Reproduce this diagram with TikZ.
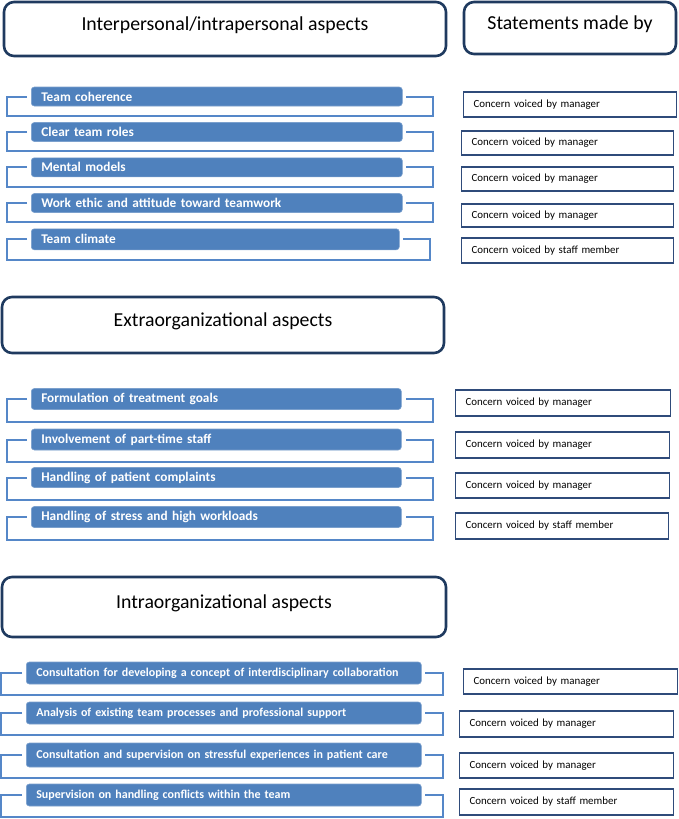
\documentclass[tikz,border=0pt]{standalone}
\usepackage{fontspec}
\setmainfont{Carlito}
\definecolor{barblue}{HTML}{4F81BD}
\definecolor{brkblue}{HTML}{5587C8}
\definecolor{navy}{HTML}{1F3A5F}
\definecolor{boxnavy}{HTML}{2F4B7A}

\begin{document}
\begin{tikzpicture}[x=1pt,y=-1pt,
  head/.style={draw=navy,line width=2.6pt,rounded corners=10pt,fill=white,font=\fontsize{19.8}{23}\selectfont,text depth=11pt},
  topic/.style={rectangle,rounded corners=3pt,fill=barblue,draw=barblue!75!white,line width=0.6pt,text=white,anchor=west,inner xsep=10pt,inner ysep=0pt,align=left},
  voiced/.style={draw=boxnavy,line width=1.1pt,anchor=west,inner xsep=10pt,inner ysep=0pt,text width=192pt,align=left,minimum height=25pt,font=\fontsize{10.9}{13}\selectfont},
  brk/.style={draw=brkblue,line width=2pt}]
\useasboundingbox (0,0) rectangle (678,819);

% headings
\node[head,minimum width=442pt,minimum height=54pt] (H1) at (225,29) {Interpersonal/intrapersonal aspects};
\node[head,minimum width=212pt,minimum height=52pt] (H0) at (570,28) {Statements made by};
\node[head,minimum width=442pt,minimum height=56pt] (H2) at (223,325) {Extraorganizational aspects};
\node[head,minimum width=444pt,minimum height=60pt] (H3) at (224,607) {Intraorganizational aspects};

% interpersonal/intrapersonal
\node[topic,text width=351pt,minimum height=19pt,font=\bfseries\fontsize{13.3}{15}\selectfont] (A1) at (31,96.5) {Team coherence};
\node[topic,text width=351pt,minimum height=19pt,font=\bfseries\fontsize{13.3}{15}\selectfont] (A2) at (31,132) {Clear team roles};
\node[topic,text width=351pt,minimum height=19pt,font=\bfseries\fontsize{13.3}{15}\selectfont] (A3) at (31,167.3) {Mental models};
\node[topic,text width=351pt,minimum height=19pt,font=\bfseries\fontsize{13.3}{15}\selectfont] (A4) at (31,203) {Work ethic and attitude toward teamwork};
\node[topic,text width=348pt,minimum height=21pt,font=\bfseries\fontsize{13.3}{15}\selectfont] (A5) at (31,239.3) {Team climate};
\foreach \n in {A1,A2,A3,A4,A5}
  \draw[brk] ([xshift=-4pt]\n.west) -- ++(-20pt,0pt) |- ([shift={(30pt,-9.5pt)}]\n.south east) |- ([xshift=3pt]\n.east);

\node[voiced,text width=193pt] (R1) at (463,104.5) {Concern voiced by manager};
\node[voiced,minimum height=24pt] (R2) at (461,143) {Concern voiced by manager};
\node[voiced,minimum height=24pt] (R3) at (461,179) {Concern voiced by manager};
\node[voiced,minimum height=23pt] (R4) at (461,215.5) {Concern voiced by manager};
\node[voiced] (R5) at (461,250.5) {Concern voiced by staff member};

% extraorganizational
\node[topic,text width=350pt,minimum height=21pt,font=\bfseries\fontsize{13.3}{15}\selectfont] (B1) at (31,399) {Formulation of treatment goals};
\node[topic,text width=350pt,minimum height=21pt,font=\bfseries\fontsize{13.3}{15}\selectfont] (B2) at (31,439.5) {Involvement of part-time staff};
\node[topic,text width=350pt,minimum height=20pt,font=\bfseries\fontsize{13.3}{15}\selectfont] (B3) at (31,477.5) {Handling of patient complaints};
\node[topic,text width=350pt,minimum height=21pt,font=\bfseries\fontsize{13.3}{15}\selectfont] (B4) at (31,517) {Handling of stress and high workloads};
\foreach \n in {B1,B2,B3,B4}
  \draw[brk] ([xshift=-4pt]\n.west) -- ++(-20pt,0pt) |- ([shift={(31pt,-12pt)}]\n.south east) |- ([xshift=4pt]\n.east);

\node[voiced,text width=195pt,minimum height=26pt] (S1) at (455,403) {Concern voiced by manager};
\node[voiced,text width=194pt,minimum height=26pt] (S2) at (455,445) {Concern voiced by manager};
\node[voiced,text width=194pt] (S3) at (455,485.5) {Concern voiced by manager};
\node[voiced,text width=193pt,minimum height=26pt] (S4) at (455,526) {Concern voiced by staff member};

% intraorganizational
\node[topic,text width=375pt,minimum height=22pt,font=\bfseries\fontsize{12}{14}\selectfont] (C1) at (26,673) {Consultation for developing a concept of interdisciplinary collaboration};
\node[topic,text width=375pt,minimum height=22pt,font=\bfseries\fontsize{12}{14}\selectfont] (C2) at (26,713) {Analysis of existing team processes and professional support};
\node[topic,text width=375pt,minimum height=24pt,font=\bfseries\fontsize{12}{14}\selectfont] (C3) at (26,755) {Consultation and supervision on stressful experiences in patient care};
\node[topic,text width=375pt,minimum height=22pt,font=\bfseries\fontsize{12}{14}\selectfont] (C4) at (26,795) {Supervision on handling conflicts within the team};
\foreach \n in {C1,C2,C3,C4}
  \draw[brk] ([xshift=-4pt]\n.west) -- ++(-21pt,0pt) |- ([shift={(21pt,-11pt)}]\n.south east) |- ([xshift=3pt]\n.east);

\node[voiced,text width=194pt] (T1) at (463,681.5) {Concern voiced by manager};
\node[voiced,text width=194pt,minimum height=26pt] (T2) at (459,724) {Concern voiced by manager};
\node[voiced,text width=194pt] (T3) at (459,765.5) {Concern voiced by manager};
\node[voiced,text width=194pt,minimum height=26pt] (T4) at (459,802) {Concern voiced by staff member};
\end{tikzpicture}
\end{document}
